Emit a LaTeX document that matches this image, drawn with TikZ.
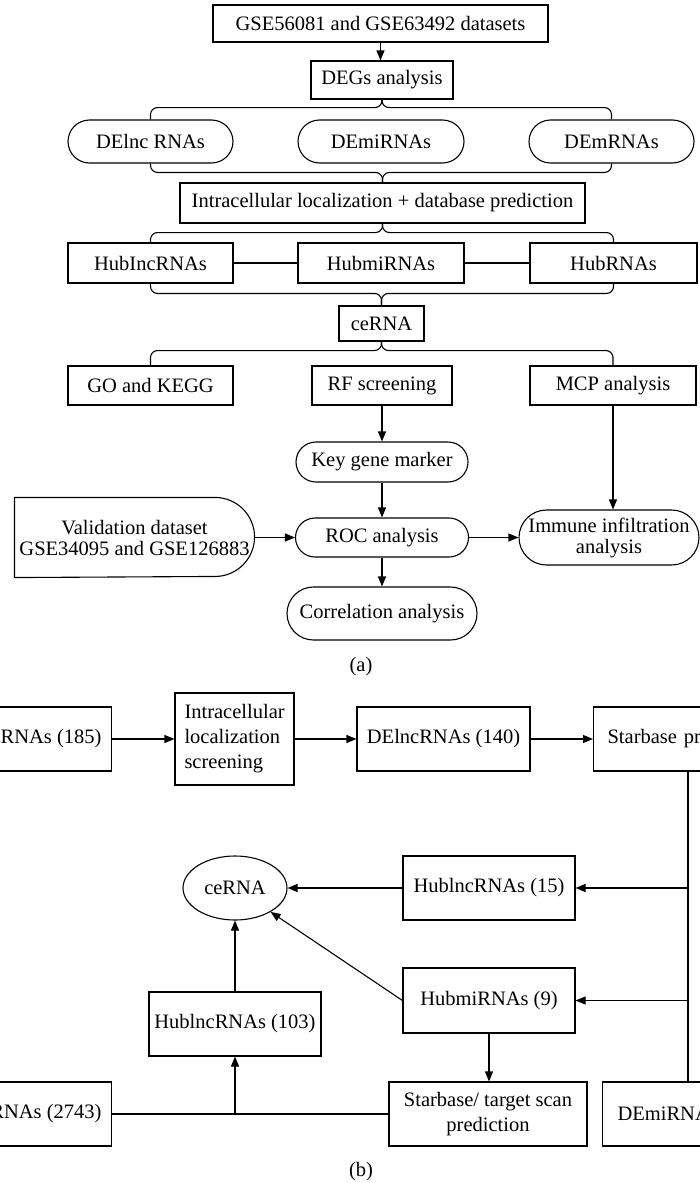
\documentclass[tikz,border=0pt]{standalone}
\usepackage{fontspec}
\setmainfont{Liberation Serif}
\usetikzlibrary{arrows.meta,shapes.geometric,calc}
\begin{document}
\begin{tikzpicture}[x=1pt,y=-1pt,line width=1.1pt,
  every node/.style={font=\fontsize{20.5}{25}\selectfont, inner sep=0pt},
  sz/.style 2 args={minimum width=#1,minimum height=#2},
  box/.style={draw,rectangle},
  pill/.style={draw,rectangle,rounded corners=#1},
  pill/.default=21pt,
  two/.style={align=center,font=\fontsize{20.5}{21}\selectfont},
  arr/.style={-{Triangle[length=10pt,width=8pt]}},
  brace/.style={rounded corners=7pt}]
\useasboundingbox (0,0) rectangle (700,1183);
\clip (0,0) rectangle (700,1183);
% ---------- (a) ----------
\node[box,sz={335}{37}] (top) at (380.5,23.5) {GSE56081 and GSE63492 datasets};
\node[box,sz={142}{38}] (degs) at (382,80) {DEGs analysis};
\node[pill=21.5pt,sz={165}{43}] (delnc) at (150.5,141.5) {DElnc RNAs};
\node[pill=21.5pt,sz={166}{43}] (demi) at (381,141.5) {DEmiRNAs};
\node[pill=21.5pt,sz={165}{43}] (dem) at (611.5,141.5) {DEmRNAs};
\node[box,sz={405}{40}] (intra) at (382.5,203) {Intracellular localization + database prediction};
\node[box,sz={165}{40}] (hubl) at (150.5,263) {HubIncRNAs};
\node[box,sz={166}{40}] (hubmi) at (381,263) {HubmiRNAs};
\node[box,sz={167}{40}] (hubr) at (613.5,263) {HubRNAs};
\node[box,sz={85}{35}] (cer) at (381.5,323.5) {ceRNA};
\node[box,sz={165}{39}] (go) at (150.5,385.5) {GO and KEGG};
\node[box,sz={140}{39}] (rf) at (382,385.5) {RF screening};
\node[box,sz={166}{39}] (mcp) at (613,385.5) {MCP analysis};
\node[pill=20pt,sz={172}{40}] (key) at (382,462) {Key gene marker};
\node[pill=19.5pt,sz={173}{39}] (roc) at (382,537.5) {ROC analysis};
\node[two,sz={239}{79}] (val) at (134.5,537.5) {Validation dataset\\GSE34095 and GSE126883};
\draw (val.north west) -- ([xshift=-39.5pt]val.north east) arc[start angle=-90,end angle=90,radius=39.5] -- (val.south west) -- cycle;
\node[pill=27.5pt,two,sz={180}{55}] (imm) at (609,537.5) {Immune infiltration\\analysis};
\node[pill=26.5pt,sz={190}{53}] (corr) at (382,613.5) {Correlation analysis};
\node (la) at (361,667) {(a)};
\draw[arr] (top.south) -- (top.south |- degs.north);
\draw[brace] (delnc.north) |- ([yshift=-8pt]degs.south) -- (degs.south);
\draw[brace] (dem.north) |- ([yshift=-8pt]degs.south) -- (degs.south);
\draw[brace] (delnc.south) |- ([yshift=10pt]intra.north) -- (intra.north);
\draw[brace] (dem.south) |- ([yshift=10pt]intra.north) -- (intra.north);
\draw[brace] (hubl.north) |- ([yshift=-9pt]intra.south) -- (intra.south);
\draw[brace] (hubr.north) |- ([yshift=-9pt]intra.south) -- (intra.south);
\draw (hubl.east) -- (hubmi.west);
\draw (hubmi.east) -- (hubr.west);
\draw[brace] (hubl.south) |- ([yshift=12pt]cer.north) -- (cer.north);
\draw[brace] (hubr.south) |- ([yshift=12pt]cer.north) -- (cer.north);
\draw[brace] (go.north) |- ([yshift=-9pt]cer.south) -- (cer.south);
\draw[brace] (mcp.north) |- ([yshift=-9pt]cer.south) -- (cer.south);
\draw[arr] (rf.south) -- (key.north);
\draw[arr] (key.south) -- (roc.north);
\draw[arr] (roc.south) -- (corr.north);
\draw[arr] (val.east) -- (roc.west);
\draw[arr] (roc.east) -- (imm.west);
\draw[arr] (mcp.south) -- (mcp.south |- imm.north);
% ---------- (b) ----------
\coordinate (vx) at (688,0);
\node[box,minimum height=64,inner xsep=10pt,anchor=east] (b1) at (112,739) {cRNAs (185)};
\node[box,sz={119}{92},text width=100,align=left] (b2) at (234.5,739) {Intracellular\\localization\\screening};
\node[box,sz={173}{64}] (b3) at (443.5,739) {DElncRNAs (140)};
\node[box,minimum height=64,text width=130,align=left,inner xsep=14pt,anchor=west] (b4) at (593,739) {Starbase pr};
\node[box,sz={172}{64}] (hl15) at (489,888) {HublncRNAs (15)};
\node[draw,ellipse,sz={104}{64}] (cer2) at (235,888) {ceRNA};
\node[box,sz={172}{65}] (hmi9) at (489,1000.5) {HubmiRNAs (9)};
\node[box,sz={172}{64}] (hl103) at (235,1024) {HublncRNAs (103)};
\node[box,minimum height=64,inner xsep=10pt,anchor=east] (b5) at (112,1114) {RNAs (2743)};
\node[box,sz={198}{64},align=center] (st) at (488,1114) {Starbase/ target scan\\prediction};
\node[box,minimum height=64,text width=110,align=left,inner xsep=15pt,anchor=west] (dmi) at (602,1114) {DEmiRNA};
\node (lb) at (361,1172) {(b)};
\draw[arr] (b1.east) -- (b2.west);
\draw[arr] (b2.east) -- (b3.west);
\draw[arr] (b3.east) -- (b4.west);
\draw (vx |- b4.south) -- (vx |- dmi.north);
\draw[arr] (vx |- hl15.east) -- (hl15.east);
\draw[arr] (vx |- hmi9.east) -- (hmi9.east);
\draw[arr] (hl15.west) -- (cer2.east);
\draw[arr] (hmi9.west) -- (cer2);
\draw[arr] (hl103.north) -- (cer2.south);
\draw (b5.east) -- (st.west);
\draw[arr] (hl103.south |- b5.east) -- (hl103.south);
\draw[arr] (hmi9.south) -- (hmi9.south |- st.north);
\end{tikzpicture}
\end{document}
